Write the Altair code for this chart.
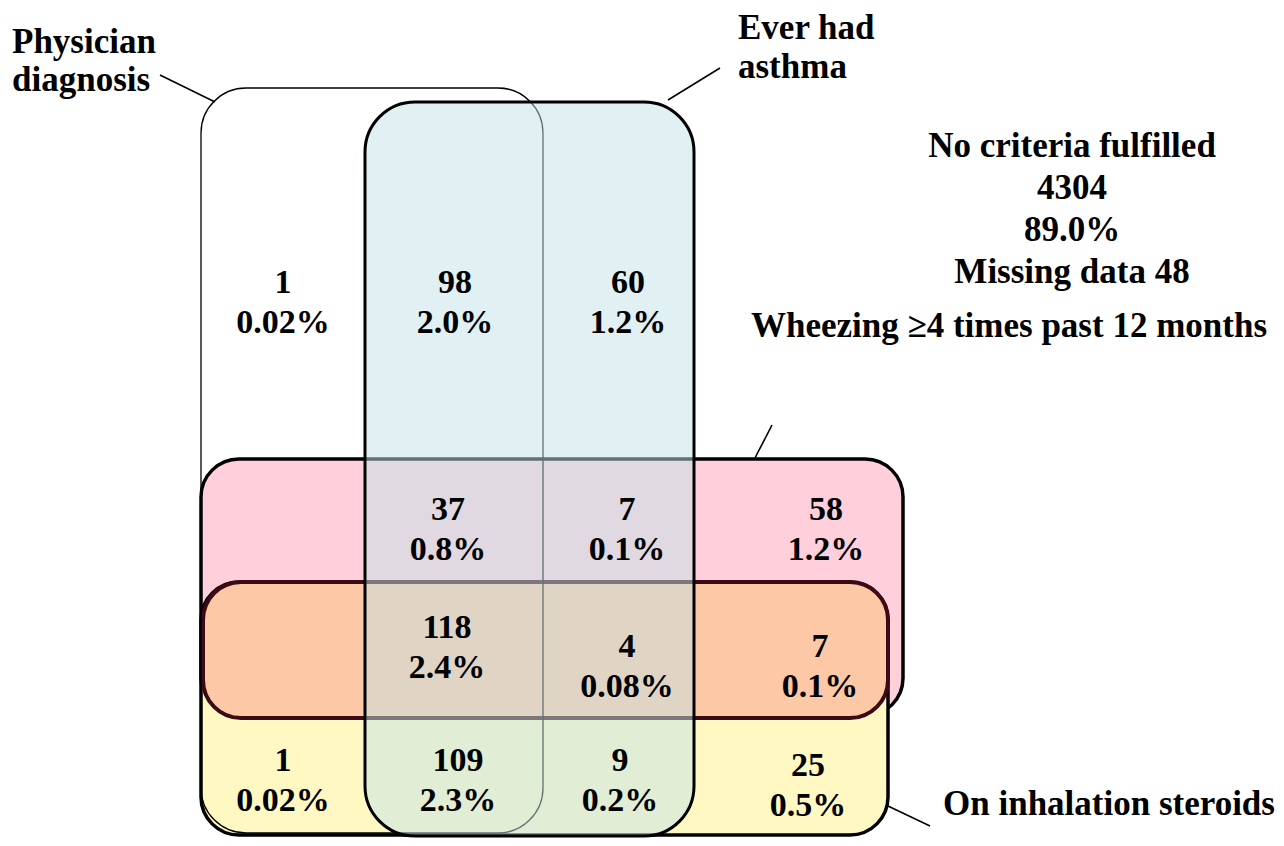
import altair as alt
import pandas as pd

# ---- Sets (rounded rectangles), in diagram units (= pixels of a 1284x846 canvas) ----
set_names   = ["Wheezing", "Steroids", "Wheezing+Steroids", "Physician diagnosis", "Ever had asthma"]
set_x0      = [201, 201, 203, 201, 365]
set_x1      = [903, 888, 888, 543, 694]
set_y0      = [459, 582, 582, 88, 102]
set_y1      = [716, 835, 718, 833, 836]
set_fill    = ["#FFD0DC", "#FFF8C2", "#FDC8A5", "#FFFFFF", "#C3E1E6"]
set_fillop  = [1.0, 1.0, 1.0, 0.0, 0.5]
set_stroke  = ["#000000", "#000000", "#3C0A14", "#000000", "#000000"]
set_strokew = [3.5, 3.5, 4.0, 1.3, 3.0]
set_radius  = [38, 38, 38, 45, 50]

# ---- Cell counts ----
cell_count = ["1", "98", "60", "37", "7", "58", "118", "4", "7", "1", "109", "9", "25"]
cell_pct   = ["0.02%", "2.0%", "1.2%", "0.8%", "0.1%", "1.2%", "2.4%", "0.08%", "0.1%",
              "0.02%", "2.3%", "0.2%", "0.5%"]
cell_x     = [283, 455, 628, 448, 627, 826, 447, 627, 820, 283, 458, 620, 808]
cell_y     = [293, 293, 293, 520, 520, 520, 638, 657, 657, 771, 771, 771, 776]
line_gap   = 40

# ---- Annotation texts ----
ann_text  = ["Physician", "diagnosis", "Ever had", "asthma",
             "No criteria fulfilled", "4304", "89.0%", "Missing data 48",
             "Wheezing \u22654 times past 12 months", "On inhalation steroids"]
ann_x     = [12, 12, 738, 738, 1072, 1072, 1072, 1072, 1009, 943]
ann_y     = [53, 91, 39, 78, 157, 199, 241, 283, 337, 815]
ann_align = ["left", "left", "left", "left", "center", "center", "center", "center", "center", "left"]

# ---- Leader lines ----
lead_x0 = [160, 668, 755, 888]
lead_y0 = [75, 100, 458, 806]
lead_x1 = [215, 720, 772, 930]
lead_y1 = [102, 68, 425, 826]

W, H = 1268, 830
xs = alt.Scale(domain=[8, 8 + W], nice=False, zero=False)
ys = alt.Scale(domain=[8, 8 + H], nice=False, zero=False, reverse=True)
FONT = "Liberation Serif, Times New Roman, Times, serif"
FS_CELL = 34
FS_ANN = 35

layers = []
for i in range(len(set_names)):
    d = pd.DataFrame({"name": [set_names[i]], "x0": [set_x0[i]], "x1": [set_x1[i]],
                      "y0": [set_y0[i]], "y1": [set_y1[i]]})
    layers.append(
        alt.Chart(d).mark_rect(
            cornerRadius=set_radius[i], fill=set_fill[i], fillOpacity=set_fillop[i],
            stroke=set_stroke[i], strokeWidth=set_strokew[i]
        ).encode(
            x=alt.X("x0:Q", scale=xs, axis=None), x2="x1:Q",
            y=alt.Y("y0:Q", scale=ys, axis=None), y2="y1:Q",
        )
    )

cells = pd.DataFrame({"count": cell_count, "pct": cell_pct, "x": cell_x, "y": cell_y})
cells["y2"] = cells["y"] + line_gap
txt_count = alt.Chart(cells).mark_text(font=FONT, fontWeight="bold", fontSize=FS_CELL,
                                       baseline="alphabetic", align="center", color="black").encode(
    x=alt.X("x:Q", scale=xs, axis=None), y=alt.Y("y:Q", scale=ys, axis=None), text="count:N")
txt_pct = alt.Chart(cells).mark_text(font=FONT, fontWeight="bold", fontSize=FS_CELL,
                                     baseline="alphabetic", align="center", color="black").encode(
    x=alt.X("x:Q", scale=xs, axis=None), y=alt.Y("y2:Q", scale=ys, axis=None), text="pct:N")

ann = pd.DataFrame({"t": ann_text, "x": ann_x, "y": ann_y, "a": ann_align})
ann_layers = []
for al in ["left", "center"]:
    ann_layers.append(
        alt.Chart(ann[ann["a"] == al]).mark_text(font=FONT, fontWeight="bold", fontSize=FS_ANN,
                                                 baseline="alphabetic", align=al, color="black").encode(
            x=alt.X("x:Q", scale=xs, axis=None), y=alt.Y("y:Q", scale=ys, axis=None), text="t:N")
    )

leads = pd.DataFrame({"x0": lead_x0, "y0": lead_y0, "x1": lead_x1, "y1": lead_y1})
lead_layer = alt.Chart(leads).mark_rule(color="black", strokeWidth=1.6).encode(
    x=alt.X("x0:Q", scale=xs, axis=None), y=alt.Y("y0:Q", scale=ys, axis=None),
    x2="x1:Q", y2="y1:Q")

chart = alt.layer(*layers, lead_layer, txt_count, txt_pct, *ann_layers).properties(
    width=W, height=H, padding=0, autosize=alt.AutoSizeParams(type="none")
).configure_view(stroke=None)

chart.save("out.html", embed_options={"renderer": "svg", "actions": False})
